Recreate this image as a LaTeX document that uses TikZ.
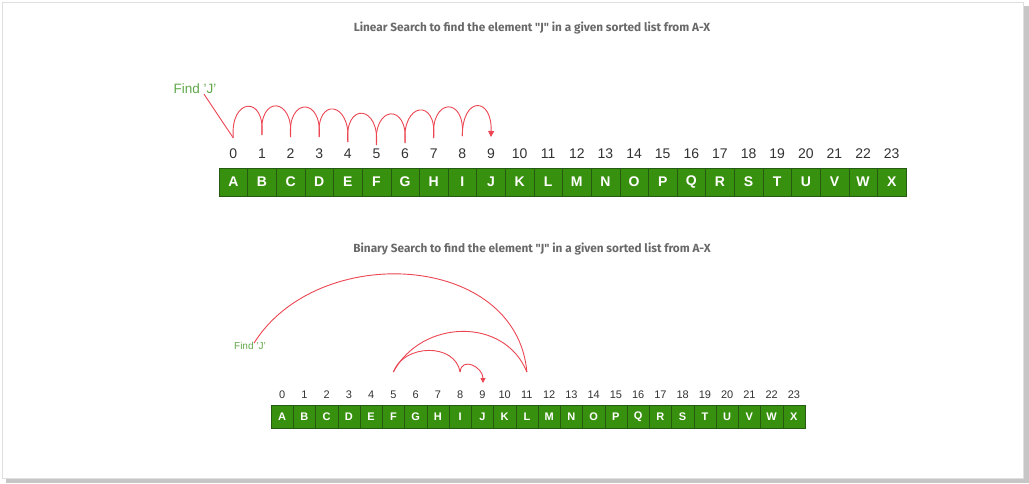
\documentclass[tikz,border=0pt]{standalone}
\usepackage{fontspec}
\setmainfont{Liberation Sans}
\newfontfamily\titlefont{Fira Sans}
\usetikzlibrary{arrows.meta}
\definecolor{cellgreen}{RGB}{56,145,14}
\definecolor{celledge}{RGB}{38,90,18}
\definecolor{jumpred}{RGB}{236,70,82}
\definecolor{findgreen}{RGB}{96,168,74}
\definecolor{titlegray}{RGB}{105,105,105}
\begin{document}
\begin{tikzpicture}[x=1pt,y=-1pt,
    cellA/.style={draw=celledge,fill=cellgreen,text=white,inner sep=0pt,minimum width=28.6pt,minimum height=28pt,font=\bfseries\fontsize{14}{14}\selectfont},
    cellB/.style={cellA,minimum width=22.25pt,minimum height=23pt,font=\bfseries\fontsize{11}{11}\selectfont},
    idxA/.style={inner sep=0pt,text=black!80,font=\fontsize{14}{14}\selectfont},
    idxB/.style={idxA,font=\fontsize{11}{11}\selectfont},
    jump/.style={draw=jumpred,line width=0.9pt},
    findlbl/.style={text=findgreen,inner sep=0pt},
    heading/.style={text=titlegray,font=\titlefont\bfseries\fontsize{11.8}{11.8}\selectfont}]
    \useasboundingbox (0,0) rectangle (1029,483);
    \fill[gray!45] (6,6) rectangle (1029,483);
    \draw[gray!25,fill=white] (2,2) rectangle (1023,478);
    % linear search
    \node[heading] (title1) at (532,28) {Linear Search to find the element "J" in a given sorted list from A-X};
    \foreach \l [count=\n from 0] in {A,B,C,D,E,F,G,H,I,J,K,L,M,N,O,P,Q,R,S,T,U,V,W,X} {
        \node[cellA] (a\n) at (219+28.625*\n+14.31,182) {\l};
        \node[idxA] (ai\n) at (219+28.625*\n+14.31,154) {\n};
    }
    % hand drawn jump ends
    \foreach \n/\y in {0/138,1/135,2/137,3/137,4/142,5/145,6/143,7/138,8/136,9/137}
        \coordinate (ap\n) at (219+28.625*\n+14.31,\y);
    \node[findlbl,font=\fontsize{13.5}{13.5}\selectfont] (find1) at (195,89) {Find 'J'};
    \draw[jump] ([xshift=9pt]find1.south) -- (ap0);
    \foreach \n [evaluate=\n as \m using int(\n+1)] in {0,...,7}
        \draw[jump] (ap\n) to[out=95,in=85,looseness=3.6] (ap\m);
    \draw[jump,-{Triangle[length=6pt,width=6pt]}] (ap8) to[out=90,in=88,looseness=3.6] (ap9);
    % binary search
    \node[heading] (title2) at (532,249) {Binary Search to find the element "J" in a given sorted list from A-X};
    \foreach \l [count=\n from 0] in {A,B,C,D,E,F,G,H,I,J,K,L,M,N,O,P,Q,R,S,T,U,V,W,X} {
        \node[cellB] (b\n) at (271+22.25*\n+11.125,416.5) {\l};
        \node[idxB] (bi\n) at (271+22.25*\n+11.125,395) {\n};
        \coordinate (bp\n) at (271+22.25*\n+11.125,372);
    }
    \node[findlbl,font=\fontsize{10}{10}\selectfont] (find2) at (250,346) {Find 'J'};
    \coordinate (bp9e) at (483,383);
    \draw[jump] ([xshift=4pt,yshift=-1pt]find2.north) to[out=58,in=95,looseness=1.12] (bp11);
    \draw[jump] (bp11) to[out=112,in=62,looseness=1.15] (bp5);
    \draw[jump] (bp5) to[out=70,in=100,looseness=1.15] (bp8);
    \draw[jump,-{Triangle[length=5pt,width=5pt]}] (bp8) to[out=85,in=90,looseness=1.6] (bp9e);
\end{tikzpicture}
\end{document}
